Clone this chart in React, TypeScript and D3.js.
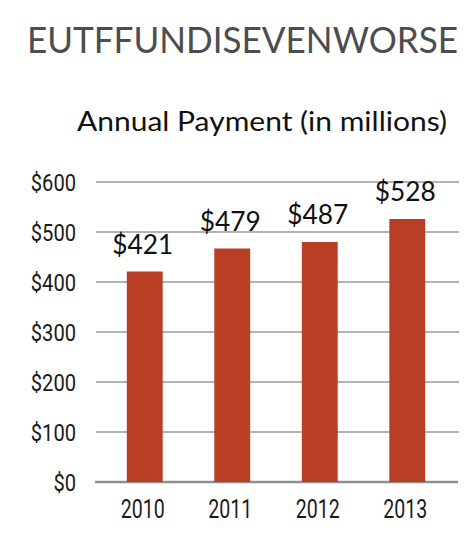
import React from 'react';
import * as d3 from 'd3';

const years = ['2010', '2011', '2012', '2013'];
// bar heights as drawn in the picture (in millions)
const payments = [421, 467, 480, 526];
// value labels as printed above the bars
const valueLabels = ['$421', '$479', '$487', '$528'];
const yTicks = [0, 100, 200, 300, 400, 500, 600];

const W = 474;
const H = 550;
const narrow = '"Roboto", "Liberation Sans", sans-serif';
const humanist = 'Lato, "Open Sans", "Noto Sans", sans-serif';

export default function App() {
  const x = d3.scaleBand<string>()
    .domain(years)
    .range([101, 451])
    .paddingInner(0.59)
    .paddingOuter(0.295);

  const y = d3.scaleLinear().domain([0, 600]).range([482, 182]);

  return (
    <svg
      width={W}
      height={H}
      style={{ position: 'absolute', left: 0, top: 0, background: '#fff' }}
    >
      <text
        x={27}
        y={53}
        fontFamily={humanist}
        fontSize={37}
        fill="#4d4d4d"
        textLength={431}
        lengthAdjust="spacingAndGlyphs"
      >
        EUTFFUNDISEVENWORSE
      </text>
      <text
        x={77}
        y={131}
        fontFamily={humanist}
        fontSize={27}
        fill="#111"
        textLength={370}
        lengthAdjust="spacingAndGlyphs"
      >
        Annual Payment (in millions)
      </text>

      {/* grid */}
      {yTicks.map(t => {
        const label = `$${t}`;
        return (
          <g key={t}>
            <line
              x1={t === 0 ? 95 : 96}
              x2={t === 0 ? 458 : 459}
              y1={y(t)}
              y2={y(t)}
              stroke={t === 0 ? '#8f8f8f' : '#9a9a9a'}
              strokeWidth={t === 0 ? 2.5 : 1.6}
            />
            <text
              x={76}
              y={y(t)}
              dy="0.36em"
              textAnchor="end"
              fontFamily={narrow}
              fontSize={24}
              fill="#1a1a1a"
              textLength={label.length * 11.3}
              lengthAdjust="spacingAndGlyphs"
            >
              {label}
            </text>
          </g>
        );
      })}

      {/* bars */}
      {years.map((yr, i) => (
        <rect
          key={yr}
          x={x(yr)}
          y={y(payments[i])}
          width={x.bandwidth()}
          height={y(0) - y(payments[i])}
          fill="#b93e26"
        />
      ))}

      {/* value labels */}
      {years.map((yr, i) => (
        <text
          key={yr}
          x={(x(yr) ?? 0) + x.bandwidth() / 2 - 2}
          y={y(payments[i]) - 18}
          textAnchor="middle"
          fontFamily={humanist}
          fontSize={27}
          fill="#111"
          textLength={61}
          lengthAdjust="spacingAndGlyphs"
        >
          {valueLabels[i]}
        </text>
      ))}

      {/* x labels */}
      {years.map(yr => (
        <text
          key={yr}
          x={(x(yr) ?? 0) + x.bandwidth() / 2 - 2}
          y={518}
          textAnchor="middle"
          fontFamily={narrow}
          fontSize={26}
          fill="#1a1a1a"
          textLength={44}
          lengthAdjust="spacingAndGlyphs"
        >
          {yr}
        </text>
      ))}
    </svg>
  );
}
